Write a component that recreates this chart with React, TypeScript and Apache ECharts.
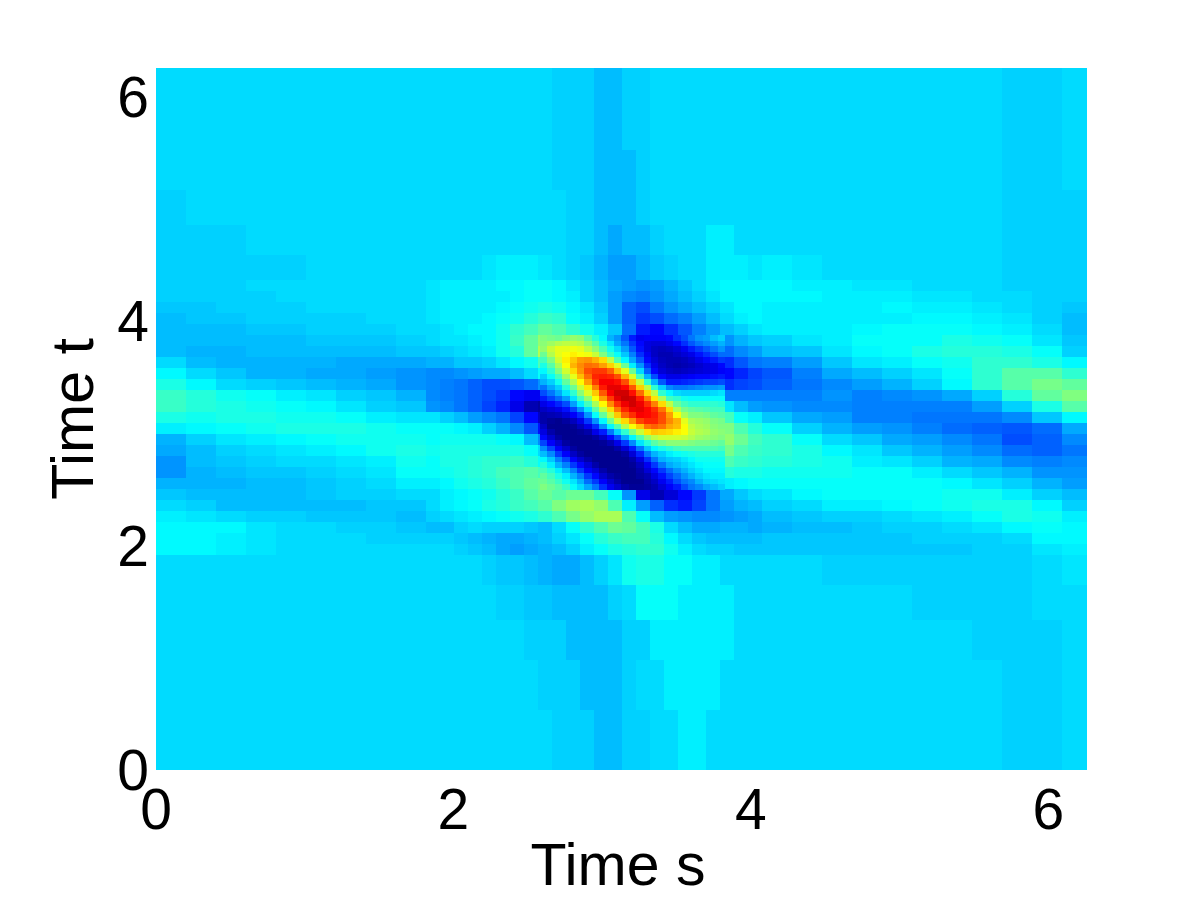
import React, { useEffect, useRef } from "react";
import * as echarts from "echarts";

const xEdges = [0,0.202,0.403,0.605,0.807,1.009,1.21,1.412,1.614,1.815,
1.91,2.004,2.098,2.192,2.286,2.38,2.474,2.569,2.663,2.757,2.851,2.945,3.039,3.133,3.228,3.322,3.416,3.51,3.604,3.698,3.792,3.887,3.981,4.075,
4.276,4.478,4.68,4.882,5.083,5.285,5.487,5.689,5.89,6.092,6.26];

const yEdges = [6.26,5.885,5.529,5.172,4.86,4.592,4.369,4.271,4.173,4.075,3.977,3.879,3.781,3.683,3.585,3.487,3.389,3.291,3.192,3.094,2.996,2.898,2.8,2.702,2.604,2.506,2.408,2.31,2.212,2.113,2.015,1.917,1.65,1.338,0.981,0.535,0];

const coreXEdges = [2.582,2.632,2.681,2.731,2.781,2.831,2.881,2.93,2.98,3.03,3.08,3.129,3.179,3.229,3.279,3.329,3.378,3.428,3.478,3.528,3.577,3.627,3.677,3.727,3.777,3.826];
const coreYEdges = [3.879,3.83,3.78,3.731,3.682,3.632,3.583,3.533,3.484,3.435,3.385,3.336,3.287,3.237,3.188,3.138,3.089,3.04,2.99,2.941,2.892,2.842,2.793,2.744,2.694,2.645,2.595,2.546,2.497];

const xTicks = [0, 2, 4, 6];
const xTitle = "Time s";
const yTitle = "Time t";

const jetStops = ["#00008f","#0000ff","#0080ff","#00ffff","#80ff80","#ffff00","#ff8000","#ff0000","#800000"];

const gridRows = [
[34,34,34,34,34,34,34,34,34, 34,34,34,34,34,34,34,34,34,33,33,33,31,31,33,33,34,34,34,34,34,34,34,34, 34,34,34,34,34,34,34,34,33,33,34],
[34,34,34,34,34,34,34,34,34, 34,34,34,34,34,34,34,34,34,33,33,33,31,31,33,33,34,34,34,34,34,34,34,34, 34,34,34,34,34,34,34,34,33,33,34],
[34,34,34,34,34,34,34,34,34, 34,34,34,34,34,34,34,34,34,33,33,33,31,31,31,33,34,34,34,34,34,34,34,34, 34,34,34,34,34,34,34,34,33,33,34],
[33,34,34,34,34,34,34,34,34, 34,34,34,34,34,34,34,34,34,34,33,33,31,31,31,33,34,34,34,34,34,34,34,34, 34,34,34,34,34,34,34,34,33,33,33],
[33,33,33,34,34,34,34,34,34, 34,34,34,34,34,34,34,34,34,34,33,33,31,29,31,31,33,34,34,34,36,36,34,34, 34,34,34,34,34,34,34,34,33,33,33],
[33,33,33,33,33,34,34,34,34, 34,34,34,34,35,36,36,36,35,34,33,32,30,28,28,30,32,33,34,34,36,36,36,35, 36,35,34,34,34,34,34,34,33,33,33],
[33,33,33,34,34,34,34,34,34, 35,36,36,36,36,37,37,38,38,37,35,33,31,29,28,27,28,30,32,34,36,37,37,37, 37,36,36,35,35,34,34,34,33,33,33],
[33,33,33,33,34,34,34,34,34, 35,36,36,36,36,36,37,38,38,37,36,33,31,28,26,25,27,29,31,33,35,37,37,37, 37,37,36,36,36,35,35,34,34,33,33],
[32,32,33,33,33,34,34,34,34, 35,36,36,36,36,37,38,39,40,39,37,35,32,28,22,20,24,27,29,31,33,35,37,37, 36,36,36,36,37,36,36,35,34,33,32],
[31,32,32,33,33,33,33,34,34, 35,36,36,36,37,38,39,41,43,42,38,36,33,28,22,18,20,23,25,28,31,34,36,37, 36,36,36,36,36,37,37,36,35,33,31],
[31,31,31,32,32,33,33,33,34, 34,35,36,37,37,39,42,44,47,45,42,39,36,32,23,15,13,17,21,25,28,31,33,35, 36,36,36,37,38,38,38,37,36,34,31],
[31,31,31,31,31,32,32,32,33, 34,35,35,36,37,39,43,47,52,52,50,47,40,36,25,14,10,11,15,21,24,27,30,32, 33,35,36,38,38,38,40,39,38,35,32],
[31,30,30,31,31,31,31,31,32, 32,33,34,35,36,39,41,47,55,57,60,58,53,42,37,20,7,4,7,13,19,23,26,28, 31,32,35,37,38,40,41,41,40,38,33],
[34,31,30,30,30,30,29,29,29, 30,30,32,32,33,35,37,39,45,56,70,72,67,60,50,35,15,7,4,8,13,17,21,24, 25,28,32,35,36,38,39,42,42,40,37],
[37,34,32,30,30,29,29,28,27, 26,26,27,28,29,29,31,34,38,52,66,78,83,78,70,62,38,24,12,9,11,13,16,19, 21,25,29,31,33,35,38,42,46,46,42],
[40,37,34,33,32,31,30,29,27, 26,25,24,22,20,20,21,23,27,38,47,57,79,86,85,75,40,24,18,18,15,17,19,20, 22,24,26,28,30,33,37,42,46,49,47],
[43,41,39,38,36,35,33,32,30, 26,25,24,22,20,18,13,11,11,14,27,38,60,80,90,90,83,65,55,42,37,25,25,25, 25,25,27,25,26,27,29,33,41,47,50],
[43,41,40,39,38,37,35,33,32, 27,26,24,22,19,16,10,4,2,7,9,13,34,62,80,90,85,67,50,44,38,35,31,28, 27,26,26,25,25,25,25,28,33,40,46],
[40,39,40,40,39,39,38,36,35, 35,33,31,28,26,24,19,13,6,3,3,5,18,36,62,77,84,75,60,47,42,44,38,36, 32,29,28,25,25,24,24,24,26,32,37],
[36,37,38,39,40,40,40,39,38, 38,38,37,36,33,30,26,21,14,0,0,0,2,12,36,62,75,76,64,51,45,50,45,41, 38,33,30,28,27,25,23,22,21,23,29],
[30,33,35,36,37,38,39,39,39, 38,39,39,39,39,38,37,31,26,5,1,0,0,1,12,38,53,57,57,52,48,52,48,44, 42,38,34,32,29,28,26,24,20,22,26],
[29,31,33,34,35,36,37,39,40, 39,40,40,40,40,40,40,38,34,12,6,0,0,0,0,12,34,42,45,46,45,49,45,43, 42,40,37,35,32,30,28,26,23,22,24],
[27,31,32,33,34,34,35,36,39, 38,40,40,41,42,42,43,41,38,23,15,7,0,0,0,6,18,32,38,39,39,45,43,42, 41,40,39,36,35,33,30,29,26,25,26],
[27,30,31,32,32,33,34,35,38, 38,39,40,41,42,44,45,46,44,29,24,15,8,2,0,3,10,20,28,33,36,41,40,40, 39,39,39,38,38,36,34,32,30,27,27],
[30,30,30,31,31,32,33,34,36, 36,37,39,40,41,43,45,47,48,35,30,24,15,8,2,2,6,12,19,25,30,36,37,38, 38,38,38,38,38,38,37,35,33,30,28],
[32,31,31,31,31,32,33,33,34, 34,36,37,38,39,41,43,46,48,46,48,48,44,38,27,10,4,8,13,18,24,29,32,34, 35,37,38,38,38,38,39,39,36,33,31],
[34,33,31,31,31,31,31,32,32, 34,36,37,38,40,41,43,44,46,50,53,54,52,45,36,28,22,17,15,19,24,28,30,31, 33,34,36,36,37,38,39,40,40,37,33],
[36,35,34,33,33,32,32,32,31, 33,34,35,36,37,38,39,40,42,45,49,52,54,54,45,38,31,28,27,26,26,27,28,29, 31,32,33,33,34,35,36,38,40,39,36],
[37,37,37,35,34,34,33,33,32, 31,31,33,34,33,33,33,32,31,34,38,42,45,48,47,44,40,34,31,29,29,30,30,29, 30,31,31,32,33,33,34,35,37,38,37],
[37,37,36,35,34,34,34,33,33, 33,33,32,31,30,29,29,30,31,33,35,38,41,43,44,44,41,37,34,32,31,31,31,31, 32,32,32,32,32,33,33,33,34,37,37],
[37,37,36,35,34,34,34,34,34, 34,34,33,32,31,29,28,29,30,31,33,36,38,40,41,42,42,39,36,34,33,33,32,32, 32,32,32,32,32,32,32,33,33,35,36],
[34,34,34,34,34,34,34,34,34, 34,34,34,34,33,32,32,31,30,29,29,31,33,35,39,40,40,38,38,36,36,34,34,34, 34,34,33,33,33,33,33,33,33,34,35],
[34,34,34,34,34,34,34,34,34, 34,34,34,34,34,33,33,32,32,31,31,31,31,33,34,38,38,38,36,36,36,36,34,34, 34,34,34,34,34,33,33,33,33,34,34],
[34,34,34,34,34,34,34,34,34, 34,34,34,34,34,34,34,33,33,33,31,31,31,31,33,33,36,36,36,36,36,36,34,34, 34,34,34,34,34,34,34,33,33,33,34],
[34,34,34,34,34,34,34,34,34, 34,34,34,34,34,34,34,34,33,33,33,31,31,31,33,34,34,36,36,36,36,34,34,34, 34,34,34,34,34,34,34,34,33,33,34],
[34,34,34,34,34,34,34,34,34, 34,34,34,34,34,34,34,34,34,33,33,33,31,31,33,33,34,34,36,36,34,34,34,34, 34,34,34,34,34,34,34,34,33,33,34],
];

const coreRows = [
[50,49,48,50,52,51,46,41,37,30,27,21,15,11,12,12,12,13,17,20,24,27,28,31,33],
[51,53,55,56,56,55,51,46,40,35,29,24,18,13,9,8,8,10,13,17,21,24,26,28,30],
[52,57,60,60,61,60,56,51,45,39,34,28,21,14,9,6,5,6,8,11,15,18,21,24,27],
[48,55,60,62,64,62,61,57,50,43,38,32,25,17,11,6,4,4,6,8,10,14,17,20,23],
[44,50,58,64,68,72,73,70,66,56,45,37,29,21,13,8,5,4,4,5,7,10,13,15,18],
[40,46,54,62,70,74,77,76,72,67,59,48,36,27,17,10,6,4,3,4,5,7,9,10,13],
[37,42,50,58,66,73,80,82,82,78,69,60,48,34,22,13,8,6,5,6,7,8,9,10,12],
[33,38,44,53,60,69,77,84,85,84,80,70,59,44,30,20,13,10,10,11,12,13,13,14,15],
[30,33,39,47,55,63,72,82,88,88,86,80,69,57,42,30,21,15,15,16,17,18,19,19,20],
[24,29,33,41,48,57,65,75,85,90,90,87,79,67,56,42,33,26,24,24,25,26,27,27,28],
[20,24,29,35,42,51,59,68,79,88,92,92,86,77,66,56,42,37,34,33,33,33,33,34,35],
[15,19,23,28,35,44,52,62,72,82,90,93,92,85,75,65,54,44,42,39,38,38,38,38,38],
[10,13,16,20,28,36,44,54,63,74,83,89,92,89,83,75,66,56,48,44,42,42,42,42,41],
[6,8,10,14,19,27,35,46,56,66,76,84,89,90,87,83,76,66,55,49,47,46,45,44,44],
[3,4,5,8,12,17,27,38,47,57,68,78,83,88,87,85,80,72,62,54,50,50,49,47,46],
[3,1,0,2,5,10,18,27,37,48,58,66,73,81,84,84,80,74,70,60,54,53,52,50,49],
[6,0,0,0,1,5,10,17,27,37,45,55,62,68,76,78,76,71,69,62,56,54,53,51,50],
[9,3,0,0,0,1,3,10,15,24,33,42,50,57,65,68,67,66,64,62,57,55,54,52,51],
[13,7,2,0,0,0,0,2,6,13,20,29,37,45,52,56,58,58,58,57,55,53,52,51,50],
[19,12,7,2,0,0,0,0,1,4,10,18,26,35,41,46,49,51,51,51,50,49,49,48,47],
[26,19,12,7,2,0,0,0,0,0,3,8,15,24,32,37,40,42,44,45,45,45,45,45,44],
[31,26,18,12,6,2,0,0,0,0,0,2,8,16,24,30,33,36,38,39,40,41,41,41,41],
[37,32,25,19,12,7,3,0,0,0,0,0,3,9,17,24,30,32,33,35,37,39,39,39,39],
[41,36,30,25,18,13,8,3,0,0,0,0,1,5,11,18,24,29,31,33,35,37,38,38,38],
[44,41,36,31,25,18,12,8,3,0,0,0,0,3,8,13,18,23,27,30,33,35,37,37,37],
[47,44,40,36,30,25,18,13,7,3,1,0,0,2,4,9,14,19,23,27,30,33,35,36,36],
[48,46,43,39,35,30,23,18,12,7,3,0,0,0,3,6,11,15,20,24,26,30,33,34,35],
[50,48,46,43,38,34,29,24,17,11,7,3,1,1,2,4,8,12,15,20,24,26,29,31,33],
];

function toCells(rows: number[][], xs: number[], ys: number[]) {
  const out: number[][] = [];
  rows.forEach((row, r) => {
    row.forEach((v, c) => {
      out.push([xs[c], ys[r], xs[c + 1], ys[r + 1], v]);
    });
  });
  return out;
}

const tickFont = { fontFamily: "Liberation Sans", fontSize: 57, color: "#000", lineHeight: 44 };
const titleFont = { fontFamily: "Liberation Sans", fontSize: 59, color: "#000" };

const renderCell = (_p: any, api: any) => {
  const a = api.coord([api.value(0), api.value(1)]);
  const b = api.coord([api.value(2), api.value(3)]);
  const x0 = Math.round(a[0]), y0 = Math.round(a[1]);
  const x1 = Math.round(b[0]), y1 = Math.round(b[1]);
  return {
    type: "rect",
    shape: { x: x0, y: y0, width: x1 - x0, height: y1 - y0 },
    style: { fill: api.visual("color") },
  };
};

export default function App() {
  const ref = useRef<HTMLDivElement>(null);
  useEffect(() => {
    const chart = echarts.init(ref.current!, null, { renderer: "svg" });
    const tickText = (v: number) => (xTicks.includes(v) ? String(v) : "");
    chart.setOption({
      animation: false,
      backgroundColor: "#fff",
      grid: { show: true, backgroundColor: "#00dbff", borderWidth: 0, left: 156, top: 68, width: 931, height: 702, outerBoundsMode: "none" },
      xAxis: {
        type: "value", min: 0, max: 6.26, interval: 2,
        name: xTitle, nameLocation: "middle", nameGap: 65, nameMoveOverlap: false,
        nameTextStyle: { ...titleFont, padding: [0, 7, 0, 0] },
        axisLine: { show: false }, axisTick: { show: false }, splitLine: { show: false },
        axisLabel: { ...tickFont, margin: 17, showMaxLabel: false, showMinLabel: true, formatter: tickText },
      },
      yAxis: {
        type: "value", min: 0, max: 6.26, interval: 2,
        name: yTitle, nameLocation: "middle", nameGap: 54, nameRotate: 90, nameMoveOverlap: false,
        nameTextStyle: titleFont,
        axisLine: { show: false }, axisTick: { show: false }, splitLine: { show: false },
        axisLabel: { ...tickFont, margin: 7, showMaxLabel: false, showMinLabel: true, formatter: tickText },
      },
      visualMap: { show: false, type: "continuous", min: 0, max: 100, dimension: 4, seriesIndex: [0, 1], inRange: { color: jetStops } },
      series: [
        { type: "custom", progressive: 0, silent: true, encode: { x: [0, 2], y: [1, 3] }, data: toCells(gridRows, xEdges, yEdges), renderItem: renderCell },
        { type: "custom", progressive: 0, silent: true, encode: { x: [0, 2], y: [1, 3] }, data: toCells(coreRows, coreXEdges, coreYEdges), renderItem: renderCell },
      ],
    });
    return () => chart.dispose();
  }, []);
  return <div ref={ref} style={{ position: "fixed", left: 0, top: 0, width: 1200, height: 900 }} />;
}
